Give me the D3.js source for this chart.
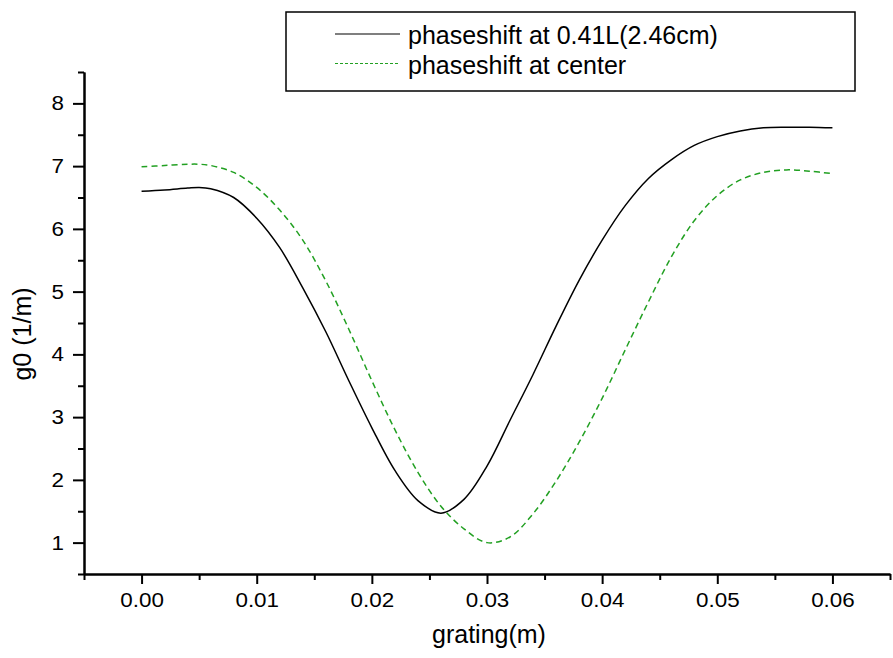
<!DOCTYPE html>
<html>
<head>
<meta charset="utf-8">
<script src="https://cdn.jsdelivr.net/npm/d3@7"></script>
<style>
  body { margin: 0; background: white; }
  text { font-family: "Liberation Sans", Arial, sans-serif; fill: #000; }
</style>
</head>
<body>
<script>
/* DATA */
var grating = [0.000, 0.002, 0.004, 0.005, 0.006, 0.008, 0.010, 0.012, 0.014, 0.016, 0.018,
               0.020, 0.022, 0.024, 0.026, 0.028, 0.030, 0.032, 0.034, 0.036, 0.038,
               0.040, 0.042, 0.044, 0.046, 0.048, 0.050, 0.052, 0.054, 0.056, 0.058, 0.060];
var phaseshift041L = [6.60, 6.62, 6.65, 6.66, 6.64, 6.50, 6.17, 5.70, 5.06, 4.36, 3.58,
                      2.83, 2.15, 1.67, 1.47, 1.69, 2.22, 2.95, 3.68, 4.45, 5.18,
                      5.82, 6.37, 6.80, 7.10, 7.33, 7.47, 7.56, 7.61, 7.62, 7.62, 7.61];
var phaseshiftCenter = [6.99, 7.01, 7.03, 7.03, 7.01, 6.90, 6.66, 6.30, 5.82, 5.17, 4.40,
                        3.58, 2.80, 2.12, 1.58, 1.22, 1.00, 1.09, 1.46, 1.98, 2.60,
                        3.30, 4.07, 4.83, 5.55, 6.13, 6.53, 6.78, 6.90, 6.94, 6.92, 6.88];
var seriesNames = ['phaseshift at 0.41L(2.46cm)', 'phaseshift at center'];
var xTicks = [0.00, 0.01, 0.02, 0.03, 0.04, 0.05, 0.06];
var xMinorTicks = [-0.005, 0.005, 0.015, 0.025, 0.035, 0.045, 0.055, 0.065];
var yTicks = [1, 2, 3, 4, 5, 6, 7, 8];
var yMinorTicks = [0.5, 1.5, 2.5, 3.5, 4.5, 5.5, 6.5, 7.5, 8.5];

/* SETUP */
var width = 893, height = 658;
var plotLeft = 84, plotRight = 890, plotTop = 72, plotBottom = 574;
var greenColor = '#22a022';

var x = d3.scaleLinear().domain([-0.005, 0.065]).range([plotLeft, plotRight]);
var y = d3.scaleLinear().domain([0.5, 8.5]).range([plotBottom, plotTop]);

var svg = d3.select('body').append('svg')
    .attr('width', width)
    .attr('height', height);

svg.append('rect')
    .attr('width', width)
    .attr('height', height)
    .attr('fill', 'white');

// stretch labels a bit wider, like the original export
function stretch(sel, k) {
    sel.each(function () {
        var w = this.getComputedTextLength();
        d3.select(this).attr('textLength', w * k).attr('lengthAdjust', 'spacingAndGlyphs');
    });
}

/* AXES */
svg.append('g')
    .attr('transform', `translate(0, ${plotBottom})`)
    .call(d3.axisBottom(x).tickValues(xMinorTicks).tickSize(6).tickSizeOuter(0).tickFormat(''));
var xMajor = svg.append('g')
    .attr('transform', `translate(0, ${plotBottom})`)
    .call(d3.axisBottom(x).tickValues(xTicks).tickSize(10).tickPadding(9).tickSizeOuter(0)
        .tickFormat(d3.format('.2f')));

svg.append('g')
    .attr('transform', `translate(${plotLeft}, 0)`)
    .call(d3.axisLeft(y).tickValues(yMinorTicks).tickSize(6).tickSizeOuter(0).tickFormat(''));
var yMajor = svg.append('g')
    .attr('transform', `translate(${plotLeft}, 0)`)
    .call(d3.axisLeft(y).tickValues(yTicks).tickSize(11).tickPadding(9).tickSizeOuter(0)
        .tickFormat(d3.format('d')));

svg.selectAll('.domain').attr('stroke', '#000').attr('stroke-width', 2);
svg.selectAll('.tick line').attr('stroke', '#000').attr('stroke-width', 2);
svg.selectAll('.tick text')
    .style('font-family', '"Liberation Sans", Arial, sans-serif')
    .style('font-size', '20px')
    .attr('fill', '#000');
stretch(xMajor.selectAll('.tick text'), 1.12);
stretch(yMajor.selectAll('.tick text'), 1.12);

// axis titles
svg.append('text')
    .attr('x', 489)
    .attr('y', 643)
    .attr('text-anchor', 'middle')
    .style('font-size', '25px')
    .text('grating(m)');

svg.append('text')
    .attr('transform', 'translate(31, 334) rotate(-90)')
    .attr('text-anchor', 'middle')
    .style('font-size', '25px')
    .text('g0 (1/m)');

/* LINES */
var line = d3.line()
    .x((d, i) => x(grating[i]))
    .y(d => y(d))
    .curve(d3.curveCatmullRom.alpha(0.5));

svg.append('path')
    .datum(phaseshiftCenter)
    .attr('fill', 'none')
    .attr('stroke', greenColor)
    .attr('stroke-width', 1.5)
    .attr('stroke-dasharray', '6,4')
    .attr('d', line);

svg.append('path')
    .datum(phaseshift041L)
    .attr('fill', 'none')
    .attr('stroke', '#000')
    .attr('stroke-width', 1.5)
    .attr('d', line);

/* LEGEND */
var legend = svg.append('g');

legend.append('rect')
    .attr('x', 286)
    .attr('y', 12)
    .attr('width', 569)
    .attr('height', 79)
    .attr('fill', 'white')
    .attr('stroke', '#000')
    .attr('stroke-width', 1.5);

var legendStyles = [
    {stroke: '#000', dash: null},
    {stroke: greenColor, dash: '3,2'}
];

seriesNames.forEach((name, i) => {
    var baseY = 44 + i * 29.5;
    legend.append('line')
        .attr('x1', 335).attr('x2', 400)
        .attr('y1', baseY - 10).attr('y2', baseY - 10)
        .attr('stroke', legendStyles[i].stroke)
        .attr('stroke-width', 1.2)
        .attr('stroke-dasharray', legendStyles[i].dash);
    legend.append('text')
        .attr('x', 408)
        .attr('y', baseY)
        .style('font-size', '25px')
        .text(name);
});
</script>
</body>
</html>
